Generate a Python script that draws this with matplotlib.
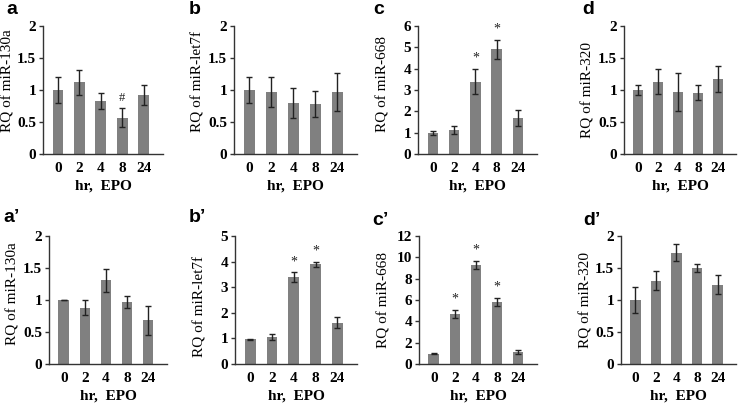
import matplotlib.pyplot as plt
import numpy as np

plt.rcParams['font.family'] = 'serif'
plt.rcParams['font.serif'] = ['Liberation Serif', 'DejaVu Serif']

hours = ['0', '2', '4', '8', '24']

# top row
mir130a = [1.0, 1.12, 0.83, 0.565, 0.92]
mir130a_err = [0.2, 0.2, 0.13, 0.15, 0.16]
let7f = [1.0, 0.97, 0.80, 0.78, 0.97]
let7f_err = [0.2, 0.23, 0.23, 0.2, 0.3]
mir668 = [0.98, 1.12, 3.39, 4.9, 1.7]
mir668_err = [0.1, 0.2, 0.6, 0.45, 0.38]
mir320 = [1.0, 1.13, 0.97, 0.96, 1.17]
mir320_err = [0.08, 0.2, 0.3, 0.12, 0.2]

# bottom row
mir130a_b = [1.0, 0.88, 1.31, 0.97, 0.68]
mir130a_b_err = [0.0, 0.12, 0.18, 0.09, 0.22]
let7f_b = [0.97, 1.06, 3.39, 3.9, 1.61]
let7f_b_err = [0.02, 0.11, 0.2, 0.1, 0.22]
mir668_b = [0.96, 4.7, 9.3, 5.8, 1.15]
mir668_b_err = [0.05, 0.4, 0.4, 0.4, 0.18]
mir320_b = [1.0, 1.3, 1.74, 1.5, 1.24]
mir320_b_err = [0.2, 0.15, 0.13, 0.07, 0.15]

# (label, gene, values, errors, ymax, step, marks, axes px box, label px pos, ylabel centre)
panels = [
    ('a', 'miR-130a', mir130a, mir130a_err, 2, 0.5, ['', '', '', '#', ''],
     (43, 163, 26, 154), (6, 10), 0.57),
    ('b', 'miR-let7f', let7f, let7f_err, 2, 0.5, ['', '', '', '', ''],
     (234, 357, 26, 154), (189, 10), 0.57),
    ('c', 'miR-668', mir668, mir668_err, 6, 1, ['', '', '*', '*', ''],
     (418, 537, 26, 154), (373, 10), 0.55),
    ('d', 'miR-320', mir320, mir320_err, 2, 0.5, ['', '', '', '', ''],
     (624, 736, 26, 154), (582, 10), 0.5),
    ('a\u2019', 'miR-130a', mir130a_b, mir130a_b_err, 2, 0.5, ['', '', '', '', ''],
     (49, 167, 236, 364), (3, 218), 0.55),
    ('b\u2019', 'miR-let7f', let7f_b, let7f_b_err, 5, 1, ['', '', '*', '*', ''],
     (235, 357, 236, 364), (189, 218), 0.45),
    ('c\u2019', 'miR-668', mir668_b, mir668_b_err, 12, 2, ['', '*', '*', '*', ''],
     (419, 537, 236, 364), (372, 221), 0.5),
    ('d\u2019', 'miR-320', mir320_b, mir320_b_err, 2, 0.5, ['', '', '', '', ''],
     (621, 736, 236, 364), (583, 221), 0.5),
]

W, H = 746, 403
fig = plt.figure(figsize=(W / 100, H / 100), dpi=100)

for label, name, vals, errs, ymax, step, marks, (x0, x1, y0, y1), (lx, ly), yc in panels:
    ax = fig.add_axes([x0 / W, (H - y1) / H, (x1 - x0) / W, (y1 - y0) / H])
    x = np.arange(len(hours))
    ax.bar(x, vals, width=0.5, color='#808080', zorder=2)
    ax.errorbar(x, vals, yerr=errs, fmt='none', ecolor='#222222',
                elinewidth=1, capsize=2.5, capthick=1, zorder=3)
    for xi, v, e, m in zip(x, vals, errs, marks):
        if m:
            ax.text(xi, v + e + ymax * 0.03, m, ha='center', va='bottom',
                    fontsize=10 if m == '*' else 9, color='#222222')
    ax.set_xlim(-0.7, 4.9)
    ax.set_ylim(0, ymax)
    ticks = np.arange(0, ymax + step / 2, step)
    ax.set_yticks(ticks)
    ax.set_yticklabels(['%g' % t for t in ticks], fontweight='bold', fontsize=11)
    ax.set_xticks(x)
    ax.set_xticklabels(hours, fontweight='bold', fontsize=11)
    ax.tick_params(axis='x', length=0, pad=6)
    ax.tick_params(axis='y', length=3, width=1, color='#333333', pad=2)
    for s in ['top', 'right']:
        ax.spines[s].set_visible(False)
    for s in ['left', 'bottom']:
        ax.spines[s].set_color('#333333')
        ax.spines[s].set_linewidth(1)
    ax.set_xlabel('hr,  EPO', fontweight='bold', fontsize=11, labelpad=3)
    ax.set_ylabel('RQ of ' + name, fontsize=11)
    ax.yaxis.set_label_coords(-29 / (x1 - x0), yc)
    fig.text(lx / W, 1 - ly / H, label,
             family='Liberation Sans', fontweight='bold', fontsize=14,
             ha='left', va='center')

fig.savefig('out.png', dpi=100)
